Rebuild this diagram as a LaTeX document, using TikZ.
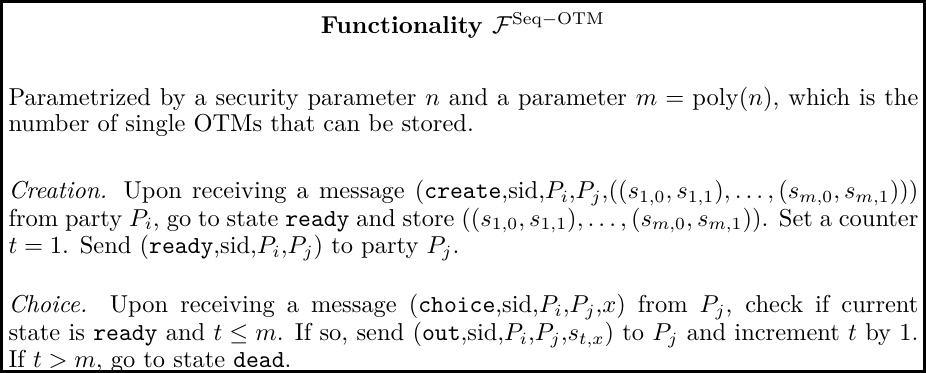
\documentclass[tikz,border=0pt]{standalone}
\usepackage{amsmath}
\usetikzlibrary{positioning}
\tikzset{
    funcbox/.style = {rectangle, draw=black, line width=1.2pt, inner sep=0pt, minimum width=377.4pt, minimum height=151.3pt},
    functitle/.style = {align=center, font=\bfseries, inner sep=0pt},
    funcpar/.style = {text width=372pt, align=justify, inner sep=0pt, font=\fontsize{10}{9.4}\selectfont}
}
\newcommand{\msg}[1]{\texttt{#1}}

\begin{document}
\begin{tikzpicture}
\useasboundingbox (0,0) rectangle (378.6pt,152.5pt);
\node[funcbox, anchor=center] at (189.3pt,76.25pt) (box) {};
\node[functitle, anchor=base] at (189.3pt,139pt) (title) {Functionality $\mathcal{F}^{\mathrm{Seq-OTM}}$};
%
\node[funcpar, anchor=base west] at (3.3pt,109.4pt) (param) {Parametrized by a security parameter $n$ and a parameter $m=\mathrm{poly}(n)$, which is the\linebreak number of single OTMs that can be stored.};
\node[funcpar, anchor=base west] at (3.3pt,71.4pt) (create) {\emph{Creation.} Upon receiving a message (\msg{create},sid,$P_i$,$P_j$,$((s_{1,0},s_{1,1}),\ldots,(s_{m,0},s_{m,1})))$\linebreak from party $P_i$, go to state \msg{ready} and store $((s_{1,0},s_{1,1}),\ldots,(s_{m,0},s_{m,1}))$. Set a counter\linebreak $t=1$. Send (\msg{ready},sid,$P_i$,$P_j$) to party $P_j$.};
\node[funcpar, anchor=base west] at (3.3pt,24.6pt) (choice) {\emph{Choice.} Upon receiving a message (\msg{choice},sid,$P_i$,$P_j$,$x$) from $P_j$, check if current\linebreak state is \msg{ready} and $t\leq m$. If so, send (\msg{out},sid,$P_i$,$P_j$,$s_{t,x}$) to $P_j$ and increment $t$ by 1.\linebreak If $t>m$, go to state \msg{dead}.};
\end{tikzpicture}
\end{document}
